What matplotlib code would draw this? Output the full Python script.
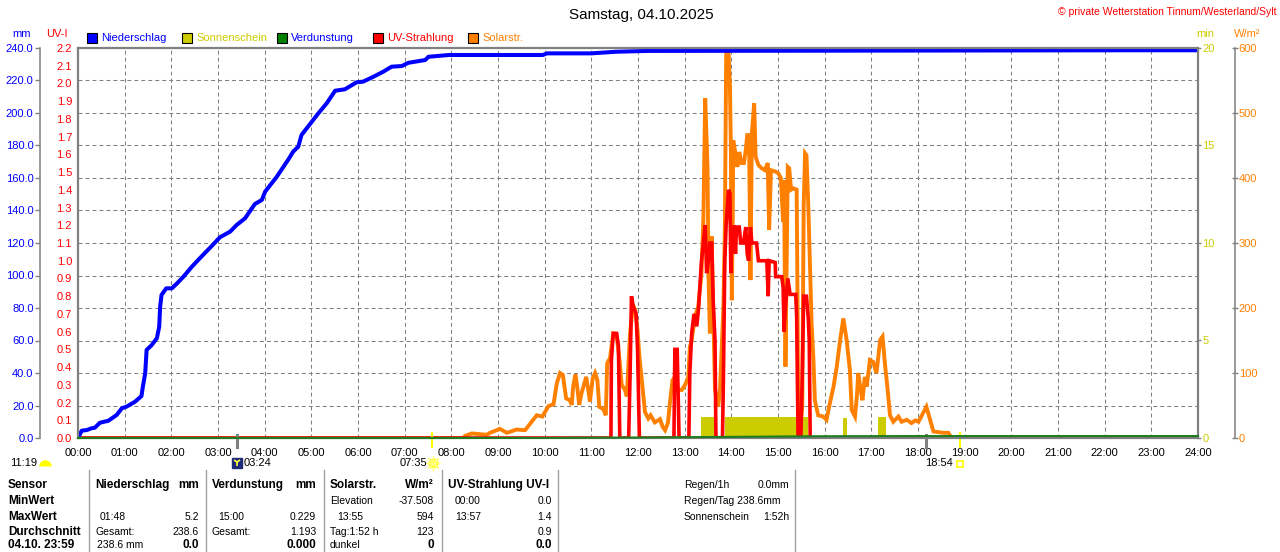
import numpy as np
import matplotlib
matplotlib.use('Agg')
import matplotlib.pyplot as plt
from matplotlib.patches import Rectangle
from matplotlib.lines import Line2D
from matplotlib.ticker import FormatStrFormatter

plt.rcParams['font.family'] = ['Liberation Sans', 'DejaVu Sans']

# ---------------- data ----------------
hour_labels = ["%02d:00" % h for h in range(25)]

rain_t = [0, 0.08, 0.19, 0.29, 0.36, 0.47, 0.65, 0.83, 0.94, 1.04, 1.22, 1.36, 1.39, 1.44,
          1.47, 1.58, 1.69, 1.74, 1.76, 1.79, 1.89, 2.01, 2.11, 2.26, 2.44, 2.61, 2.87, 3.04,
          3.26, 3.40, 3.58, 3.79, 3.94, 4.01, 4.26, 4.51, 4.61, 4.72, 4.79, 5.01, 5.15, 5.33,
          5.51, 5.72, 5.97, 6.11, 6.33, 6.54, 6.72, 6.94, 7.08, 7.44, 7.51, 7.95, 9.96, 10.05,
          11.0, 11.53, 12.21, 22.63, 24.0]
rain_mm = [0, 4.5, 4.9, 6.0, 6.3, 9.4, 10.6, 14.2, 18.3, 19.3, 22.3, 25.8, 31.6, 39.8,
           54.2, 57.2, 61.4, 68.5, 80.8, 88.0, 92.1, 92.1, 94.8, 99.3, 105.4, 110.6, 118.3, 123.5,
           127.0, 131.1, 135.2, 144.0, 146.5, 151.6, 160.8, 171.5, 176.2, 179.3, 186.5, 194.6, 199.8, 206.0,
           213.7, 214.6, 218.9, 219.3, 222.3, 225.4, 228.5, 228.9, 230.9, 232.6, 234.6, 235.7, 235.7, 236.7,
           236.7, 237.7, 238.2, 238.6, 238.6]

evap_t = [0, 8, 10, 12, 14, 16, 18, 24]
evap_mm = [0, 0, 0.05, 0.3, 0.7, 1.1, 1.19, 1.193]

sun_start = [13.35, 13.86, 16.39, 17.14]
sun_end = [13.63, 15.64, 16.47, 17.31]
sun_min = [1.1, 1.1, 1.05, 1.1]

solar_t = [0.0, 8.25, 8.29, 8.44, 8.61, 8.76, 8.83, 9.04, 9.19, 9.40, 9.58, 9.72, 9.83, 9.95,
           10.08, 10.19, 10.26, 10.33, 10.39, 10.46, 10.54, 10.58, 10.61, 10.66, 10.71, 10.74, 10.79,
           10.89, 10.94, 10.97, 11.03, 11.08, 11.13, 11.17, 11.26, 11.31, 11.34, 11.40, 11.47, 11.54,
           11.61, 11.65, 11.72, 11.76, 11.83, 11.89, 11.94, 11.99, 12.03, 12.08, 12.15, 12.22, 12.27,
           12.36, 12.47, 12.53, 12.58, 12.64, 12.69, 12.74, 12.79, 12.86, 12.94, 13.01, 13.08, 13.11,
           13.15, 13.22, 13.29, 13.36, 13.40, 13.44, 13.49, 13.51, 13.54, 13.58, 13.61, 13.65, 13.72,
           13.76, 13.83, 13.86, 13.89, 13.94, 13.97, 13.99, 14.01, 14.03, 14.04, 14.10, 14.13, 14.17,
           14.22, 14.27, 14.31, 14.34, 14.38, 14.41, 14.44, 14.49, 14.52, 14.58, 14.65, 14.72, 14.78,
           14.81, 14.85, 14.94, 15.01, 15.06, 15.11, 15.13, 15.16, 15.21, 15.24, 15.28, 15.33, 15.40,
           15.42, 15.43, 15.47, 15.52, 15.55, 15.58, 15.61, 15.65, 15.68, 15.72, 15.76, 15.79, 15.86,
           15.97, 16.04, 16.11, 16.19, 16.26, 16.33, 16.40, 16.47, 16.54, 16.58, 16.65, 16.69, 16.72,
           16.76, 16.81, 16.86, 16.90, 16.97, 17.04, 17.11, 17.19, 17.24, 17.29, 17.35, 17.40, 17.47,
           17.58, 17.65, 17.76, 17.86, 17.94, 18.01, 18.12, 18.18, 18.26, 18.33, 18.54, 18.65, 18.72,
           24.0]
solar_w = [0, 0, 3, 7, 6, 5, 8, 14, 8, 13, 12, 25, 35, 33,
           49, 52, 84, 100, 97, 61, 58, 51, 79, 98, 71, 51, 69,
           94, 71, 56, 92, 100, 89, 48, 44, 35, 115, 123, 161, 160,
           115, 82, 74, 64, 161, 205, 197, 166, 125, 89, 40, 30, 35,
           24, 29, 17, 12, 23, 58, 89, 94, 74, 74, 82, 94, 140,
           150, 187, 202, 253, 335, 523, 417, 253, 161, 310, 202, 74, 48,
           79, 202, 315, 592, 594, 540, 448, 212, 335, 458, 433, 417, 440,
           423, 423, 443, 466, 466, 243, 469, 515, 433, 420, 415, 412, 423,
           320, 412, 410, 407, 400, 333, 397, 110, 417, 415, 382, 384, 382,
           192, 69, 12, 48, 356, 438, 435, 356, 279, 176, 120, 58, 35,
           33, 28, 53, 79, 110, 150, 184, 151, 105, 43, 33, 64, 100,
           79, 58, 94, 79, 120, 117, 100, 151, 156, 115, 74, 35, 25,
           33, 25, 28, 23, 27, 25, 40, 48, 28, 10, 8, 8, 0,
           0]

uv_t = [0, 11.42, 11.43, 11.47, 11.54, 11.58, 11.61, 11.80, 11.83, 11.86, 11.90, 11.96, 11.99,
        12.03, 12.77, 12.79, 12.84, 12.88, 13.09, 13.11, 13.15, 13.20, 13.26, 13.30, 13.36, 13.40,
        13.44, 13.47, 13.51, 13.54, 13.58, 13.61, 13.65, 13.67, 13.81, 13.83, 13.86, 13.89, 13.94,
        13.97, 13.99, 14.02, 14.06, 14.09, 14.11, 14.17, 14.20, 14.26, 14.31, 14.34, 14.37, 14.41,
        14.44, 14.54, 14.58, 14.76, 14.79, 14.81, 14.94, 14.95, 15.08, 15.11, 15.13, 15.16, 15.21,
        15.26, 15.38, 15.40, 15.43, 15.49, 15.52, 15.55, 15.61, 15.65, 15.67, 15.69, 24.0]
uv_i = [0, 0, 0.44, 0.59, 0.59, 0.52, 0, 0, 0.35, 0.80, 0.74, 0.70, 0.50,
        0, 0, 0.50, 0.50, 0, 0, 0.36, 0.59, 0.70, 0.63, 0.74, 1.00, 1.10,
        1.20, 0.93, 1.00, 1.10, 1.10, 0.78, 0.55, 0, 0, 0.33, 1.00, 1.21, 1.40,
        1.38, 0.93, 1.19, 1.19, 1.04, 1.19, 1.19, 1.10, 1.10, 1.19, 1.04, 1.00, 1.19,
        1.10, 1.10, 1.00, 1.00, 0.80, 1.00, 0.99, 0.91, 0.91, 0.85, 0.60, 0.74, 0.90,
        0.81, 0.81, 0.68, 0, 0, 0.36, 0.80, 0.80, 0.67, 0.55, 0, 0]

moon_times = [3.40, 18.17]
sunrise_t = 7.583
sunset_t = 18.90
moon_label = "03:24"
sunrise_label = "07:35"
sunset_label = "18:54"
daylength_label = "11:19"

# ---------------- styling ----------------
GRAY = '#808080'
BLUE = '#0000ff'
RED = '#ff0000'
ORANGE = '#ff8000'
OLIVE = '#cccc00'
GREEN = '#1e7d1e'

W, H = 1280, 552
fig = plt.figure(figsize=(W / 100, H / 100), dpi=100)
fig.patch.set_facecolor('white')


def fx(p):
    return p / W


def fy(p):
    return 1 - p / H


X0, X1, Y0, Y1 = 78, 1198, 48, 438
ax = fig.add_axes([fx(X0), fy(Y1), (X1 - X0) / W, (Y1 - Y0) / H])
ax.set_xlim(0, 24)
ax.set_ylim(0, 240)
ax.set_zorder(0)

ax_min = ax.twinx()
ax_w = ax.twinx()
ax_uv = ax.twinx()
ax_top = ax.twinx()
for i, a in enumerate([ax_min, ax_w, ax_uv, ax_top]):
    a.set_zorder(i + 1)
    a.patch.set_visible(False)
    a.xaxis.set_visible(False)
    for s in a.spines.values():
        s.set_visible(False)
for s in ax.spines.values():
    s.set_visible(False)

# mm axis (outer left)
ax.spines['left'].set_visible(True)
ax.spines['left'].set_position(('outward', 27.4))
ax.spines['left'].set_color(GRAY)
ax.spines['left'].set_linewidth(1.1)
ax.set_yticks(np.arange(0, 241, 20))
ax.yaxis.set_major_formatter(FormatStrFormatter('%.1f'))
ax.tick_params(axis='y', direction='out', length=3.6, width=1.0, color=GRAY,
               labelcolor=BLUE, labelsize=8, pad=1)
ax.set_xticks(range(25))
ax.set_xticklabels(hour_labels)
ax.tick_params(axis='x', length=0, pad=7, labelsize=8)
ax.grid(True, color=GRAY, linestyle=(0, (3.8, 2.9)), linewidth=0.75)

# UV axis (inner left)
ax_uv.set_ylim(0, 2.2)
ax_uv.yaxis.set_ticks_position('left')
ax_uv.yaxis.set_label_position('left')
ax_uv.set_yticks(np.round(np.arange(23) * 0.1, 1))
ax_uv.yaxis.set_major_formatter(FormatStrFormatter('%.1f'))
ax_uv.tick_params(axis='y', length=0, labelcolor=RED, labelsize=8, pad=4.3)

# min axis (inner right)
ax_min.set_ylim(0, 20)
ax_min.set_yticks([0, 5, 10, 15, 20])
ax_min.tick_params(axis='y', direction='out', length=2.2, width=1.0, color=GRAY,
                   labelcolor=OLIVE, labelsize=8, pad=1)

# W/m2 axis (outer right)
ax_w.set_ylim(0, 600)
ax_w.spines['right'].set_visible(True)
ax_w.spines['right'].set_position(('outward', 26.6))
ax_w.spines['right'].set_color(GRAY)
ax_w.spines['right'].set_linewidth(1.1)
ax_w.set_yticks(np.arange(0, 601, 100))
ax_w.tick_params(axis='y', direction='inout', length=4.4, width=1.0, color=GRAY,
                 labelcolor=ORANGE, labelsize=8, pad=0.5)

# top axis: frame + blue/green
ax_top.set_ylim(0, 240)
ax_top.yaxis.set_visible(False)
for side in ['left', 'right', 'top', 'bottom']:
    ax_top.spines[side].set_visible(True)
    ax_top.spines[side].set_color(GRAY)
    ax_top.spines[side].set_linewidth(1.6)

# ---------------- data drawing ----------------
ax_min.bar(sun_start, sun_min, width=np.array(sun_end) - np.array(sun_start), align='edge',
           color=OLIVE, linewidth=0)
ax_w.plot(solar_t, solar_w, color=ORANGE, lw=2.8, solid_joinstyle='miter')
ax_uv.plot(uv_t, uv_i, color=RED, lw=2.6, solid_joinstyle='miter')
ax_top.plot(rain_t, rain_mm, color=BLUE, lw=2.9, zorder=2)
ax_top.plot(evap_t, evap_mm, color=GREEN, lw=1.5, zorder=3, clip_on=False)

# ---------------- events under axis ----------------
tr = ax_top.get_xaxis_transform()
for t in moon_times:
    ax_top.plot([t, t], [0.008, -0.023], color=GRAY, lw=2.2, transform=tr, clip_on=False)
for t in [sunrise_t, sunset_t]:
    ax_top.plot([t, t], [0.013, -0.023], color='#ffff00', lw=1.5, transform=tr, clip_on=False)

ax_top.annotate(moon_label, xy=(moon_times[0], 0), xycoords=tr, xytext=(5, -18),
                textcoords='offset points', ha='left', va='center', fontsize=8,
                annotation_clip=False)
ax_top.plot([moon_times[0]], [-0.064], transform=tr, clip_on=False, marker='s', ms=7,
            mfc='#1c2a78', mec='#1c2a78')
ax_top.plot([moon_times[0]], [-0.062], transform=tr, clip_on=False, marker='1', ms=6,
            color='#ffff40', mew=1.2)

ax_top.annotate(sunrise_label, xy=(sunrise_t, 0), xycoords=tr, xytext=(-3.5, -18),
                textcoords='offset points', ha='right', va='center', fontsize=8,
                annotation_clip=False)
ax_top.plot([sunrise_t + 0.03], [-0.064], transform=tr, clip_on=False, marker='o', ms=6,
            mfc='#ffff00', mec='#ffff00')
ax_top.plot([sunrise_t + 0.03], [-0.064], transform=tr, clip_on=False, marker=(8, 2, 0),
            ms=10, color='#ffff80', mew=1.0)

ax_top.annotate(sunset_label, xy=(sunset_t, 0), xycoords=tr, xytext=(-5.5, -18),
                textcoords='offset points', ha='right', va='center', fontsize=8,
                annotation_clip=False)
ax_top.plot([sunset_t], [-0.066], transform=tr, clip_on=False, marker='s', ms=5,
            mfc='white', mec='#ffff00', mew=1.2)

fig.text(fx(10), fy(463), daylength_label, ha='left', va='center', fontsize=8)
fig.add_artist(Line2D([fx(45)], [fy(466)], transform=fig.transFigure, marker='o', ms=9,
                      fillstyle='top', mfc='#ffff00', mfcalt='none', mec='none'))

# ---------------- header texts ----------------
fig.text(fx(641), fy(15), 'Samstag, 04.10.2025', ha='center', va='center', fontsize=11)
fig.text(fx(1277), fy(12), '\u00a9 private Wetterstation Tinnum/Westerland/Sylt',
         ha='right', va='center', fontsize=7.5, color=RED)

fig.text(fx(22), fy(34), 'mm', ha='center', va='center', fontsize=8, color=BLUE)
fig.text(fx(57), fy(34), 'UV-I', ha='center', va='center', fontsize=8, color=RED)
fig.text(fx(1205), fy(34), 'min', ha='center', va='center', fontsize=8, color=OLIVE)
fig.text(fx(1247), fy(34), 'W/m\u00b2', ha='center', va='center', fontsize=8, color=ORANGE)

legend_items = [
    (87, '#0000ff', 'Niederschlag', BLUE),
    (182, OLIVE, 'Sonnenschein', OLIVE),
    (277, '#008000', 'Verdunstung', BLUE),
    (373, RED, 'UV-Strahlung', RED),
    (468, ORANGE, 'Solarstr.', ORANGE),
]
for x, fc, label, tc in legend_items:
    fig.add_artist(Rectangle((fx(x), fy(43)), 10 / W, 10 / H, transform=fig.transFigure,
                             facecolor=fc, edgecolor='black', lw=0.8))
    fig.text(fx(x + 14), fy(38), label, ha='left', va='center', fontsize=8, color=tc)

# ---------------- table ----------------
for xl in [88.6, 206, 323.7, 442, 558, 795]:
    fig.add_artist(Line2D([fx(xl), fx(xl)], [fy(470), fy(552)], transform=fig.transFigure,
                          color='#a0a0a0', lw=1))

rows_y = [485, 501, 517, 532, 545]
row_labels = ['Sensor', 'MinWert', 'MaxWert', 'Durchschnitt', '04.10. 23:59']
for y, lab in zip(rows_y, row_labels):
    fig.text(fx(8), fy(y), lab, ha='left', va='center', fontsize=8.5, fontweight='bold')

# (x, row index, text, ha, bold)
cells = [
    (95, 0, 'Niederschlag', 'left', True), (199, 0, 'mm', 'right', True),
    (212, 0, 'Verdunstung', 'left', True), (316, 0, 'mm', 'right', True),
    (330, 0, 'Solarstr.', 'left', True), (434, 0, 'W/m\u00b2', 'right', True),
    (448, 0, 'UV-Strahlung UV-I', 'left', True),
    (330, 1, 'Elevation', 'left', False), (434, 1, '-37.508', 'right', False),
    (455, 1, '00:00', 'left', False), (552, 1, '0.0', 'right', False),
    (100, 2, '01:48', 'left', False), (199, 2, '5.2', 'right', False),
    (218, 2, '15:00', 'left', False), (316, 2, '0.229', 'right', False),
    (337, 2, '13:55', 'left', False), (434, 2, '594', 'right', False),
    (455, 2, '13:57', 'left', False), (552, 2, '1.4', 'right', False),
    (95, 3, 'Gesamt:', 'left', False), (199, 3, '238.6', 'right', False),
    (212, 3, 'Gesamt:', 'left', False), (316, 3, '1.193', 'right', False),
    (330, 3, 'Tag:1:52 h', 'left', False), (434, 3, '123', 'right', False),
    (552, 3, '0.9', 'right', False),
    (97, 4, '238.6 mm', 'left', False), (199, 4, '0.0', 'right', True),
    (316, 4, '0.000', 'right', True),
    (330, 4, 'dunkel', 'left', False), (434, 4, '0', 'right', True),
    (552, 4, '0.0', 'right', True),
    (684, 0, 'Regen/1h', 'left', False), (789, 0, '0.0mm', 'right', False),
    (684, 1, 'Regen/Tag 238.6mm', 'left', False),
    (684, 2, 'Sonnenschein', 'left', False), (789, 2, '1:52h', 'right', False),
]
for x, r, txt, ha, bold in cells:
    fig.text(fx(x), fy(rows_y[r]), txt, ha=ha, va='center',
             fontsize=8.5 if bold else 7.5, fontweight='bold' if bold else 'normal')

fig.savefig('out.png', dpi=100)
